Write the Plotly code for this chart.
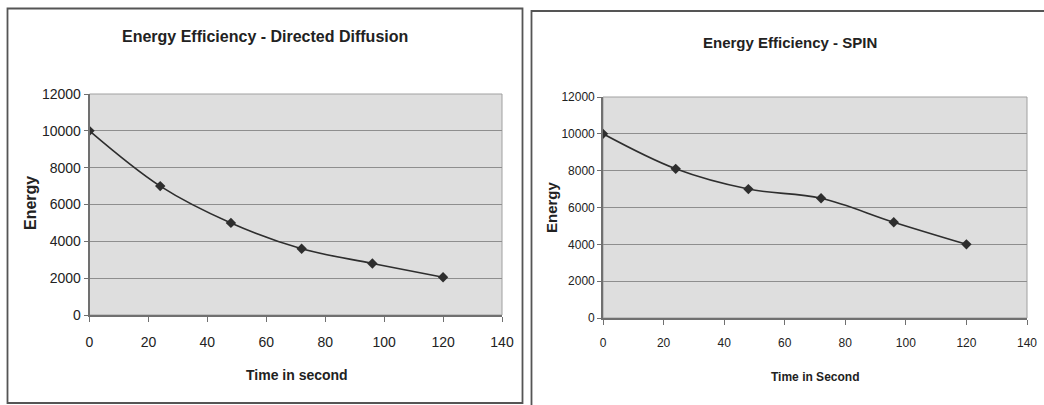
import plotly.graph_objects as go

W, H = 1044, 405

# Measurements: elapsed time (s) and remaining energy
time_s = [0, 24, 48, 72, 96, 120]
energy_dd = [10000, 7000, 5000, 3600, 2800, 2050]
energy_spin = [10000, 8100, 7000, 6500, 5200, 4000]

titles = ["Energy Efficiency - Directed Diffusion", "Energy Efficiency - SPIN"]
x_titles = ["Time in second", "Time in Second"]
y_title = "Energy"
x_ticks = [0, 20, 40, 60, 80, 100, 120, 140]
y_ticks = [0, 2000, 4000, 6000, 8000, 10000, 12000]

FONT = "Liberation Sans, Arial, sans-serif"
PLOT_BG = "#dedede"
GRID = "#8e8e8e"
AXIS = "#707070"
LINE = "#2e2e2e"


def px_x(v):
    return v / W


def px_y(v):
    return 1 - v / H


# plot-area boxes in pixels: (left, right, top, bottom)
boxes = [(89.5, 502, 94, 315), (603, 1027, 97, 318)]
tick_sizes = [14, 12]

fig = go.Figure()

series = [energy_dd, energy_spin]
for i, ys in enumerate(series):
    ax = "" if i == 0 else str(i + 1)
    fig.add_trace(go.Scatter(
        x=time_s, y=ys, xaxis="x" + ax, yaxis="y" + ax,
        mode="lines+markers",
        line=dict(color=LINE, width=1.6, shape="spline", smoothing=1.0),
        marker=dict(symbol="diamond", size=8, color=LINE),
        showlegend=False, hoverinfo="x+y",
    ))

layout = dict(
    width=W, height=H,
    autosize=False,
    margin=dict(l=0, r=0, t=0, b=0, pad=0, autoexpand=False),
    showlegend=False,
    paper_bgcolor="white",
    plot_bgcolor=PLOT_BG,
    font=dict(family=FONT, color="#222"),
    shapes=[],
    annotations=[],
)

for i, (l, r, t, b) in enumerate(boxes):
    ax = "" if i == 0 else str(i + 1)
    xk = "xaxis" + ax
    yk = "yaxis" + ax
    layout[xk] = dict(
        domain=[px_x(l), px_x(r)], anchor="y" + ax,
        range=[0, 140], tickvals=x_ticks, ticks="outside", ticklen=5,
        tickcolor=AXIS, linecolor=AXIS, linewidth=1.6, showline=True,
        showgrid=False, zeroline=False, mirror=False, automargin=False,
        tickfont=dict(size=tick_sizes[i], family=FONT, color="#222"),
        ticklabelstandoff=8,
        fixedrange=True,
    )
    layout[yk] = dict(
        domain=[px_y(b), px_y(t)], anchor="x" + ax,
        range=[0, 12000], tickvals=y_ticks, tickformat="d",
        ticks="outside", ticklen=4, automargin=False,
        tickcolor=AXIS, linecolor=AXIS, linewidth=1.6, showline=True,
        showgrid=True, gridcolor=GRID, gridwidth=1.4, zeroline=False,
        tickfont=dict(size=tick_sizes[i], family=FONT, color="#222"),
        fixedrange=True,
    )
    # plot area outline
    layout["shapes"].append(dict(
        type="rect", xref="paper", yref="paper",
        x0=px_x(l), x1=px_x(r), y0=px_y(b), y1=px_y(t),
        line=dict(color="#a0a0a0", width=1), layer="below",
    ))

# chart frames
layout["shapes"].append(dict(
    type="rect", xref="paper", yref="paper",
    x0=px_x(7.5), x1=px_x(522.5), y0=px_y(403), y1=px_y(8.5),
    line=dict(color="#555", width=1.8), layer="below",
))
layout["shapes"].append(dict(
    type="rect", xref="paper", yref="paper",
    x0=px_x(531.5), x1=px_x(1060), y0=px_y(440), y1=px_y(11),
    line=dict(color="#555", width=1.8), layer="below",
))

# titles
title_pos = [(265, 37, 16), (790, 42, 15)]
for i, (cx, cy, fs) in enumerate(title_pos):
    layout["annotations"].append(dict(
        text="<b>" + titles[i] + "</b>", xref="paper", yref="paper",
        x=px_x(cx), y=px_y(cy), xanchor="center", yanchor="middle",
        showarrow=False, font=dict(size=fs, family=FONT, color="#222"),
    ))

# axis titles
xt_pos = [(297, 375, 14), (815, 377, 12)]
for i, (cx, cy, fs) in enumerate(xt_pos):
    layout["annotations"].append(dict(
        text="<b>" + x_titles[i] + "</b>", xref="paper", yref="paper",
        x=px_x(cx), y=px_y(cy), xanchor="center", yanchor="middle",
        showarrow=False, font=dict(size=fs, family=FONT, color="#222"),
    ))
yt_pos = [(30, 203, 16), (552, 207, 15)]
for i, (cx, cy, fs) in enumerate(yt_pos):
    layout["annotations"].append(dict(
        text="<b>" + y_title + "</b>", xref="paper", yref="paper",
        x=px_x(cx), y=px_y(cy), xanchor="center", yanchor="middle",
        textangle=-90, showarrow=False,
        font=dict(size=fs, family=FONT, color="#222"),
    ))

fig.update_layout(**layout)
fig.write_html("out.html")
